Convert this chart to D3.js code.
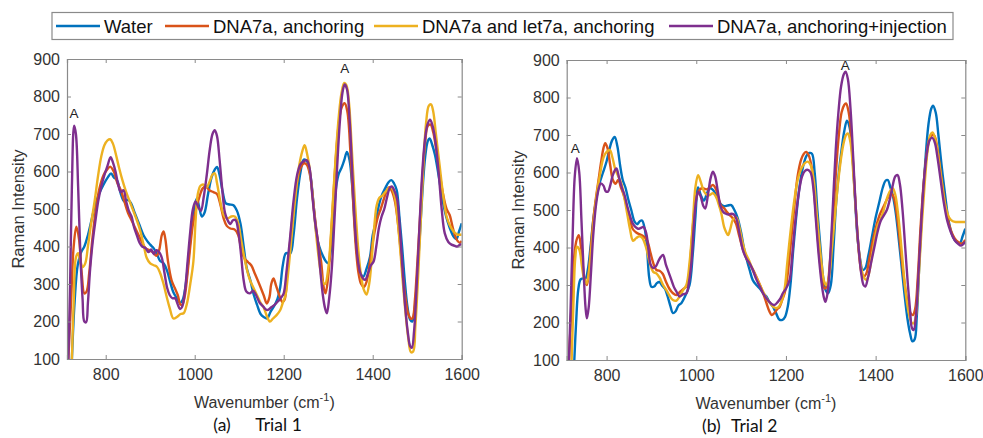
<!DOCTYPE html>
<html><head><meta charset="utf-8">
<script src="https://cdn.jsdelivr.net/npm/d3@7"></script>
<style>body{margin:0;background:#fff}svg{display:block}</style>
</head><body><svg id="c" width="983" height="438"></svg>
<script>
const seriesNames = ["Water","DNA7a, anchoring","DNA7a and let7a, anchoring","DNA7a, anchoring+injection"];
const seriesColors = ["#0072BD","#D95319","#EDB120","#7E2F8E"];
const yTicks = [100,200,300,400,500,600,700,800,900];
const xTicks = [800,1000,1200,1400,1600];

// Trial 1  [wavenumber, intensity]
const waterT1 = [[724,100],[730,250],[737,350],[745,385],[752,400],[760,430],[768,470],[776,510],[785,540],[795,565],[805,585],[812,595],[818,585],[826,575],[834,540],[842,520],[850,525],[857,515],[865,490],[875,460],[885,430],[893,415],[900,405],[908,395],[915,380],[922,362],[930,355],[938,335],[945,305],[952,278],[960,262],[967,250],[973,258],[980,300],[987,380],[994,460],[1000,510],[1005,528],[1010,505],[1016,480],[1022,490],[1030,540],[1038,585],[1045,605],[1050,612],[1056,590],[1063,545],[1070,515],[1078,512],[1087,510],[1095,495],[1103,460],[1110,400],[1117,342],[1125,310],[1133,270],[1140,245],[1148,220],[1155,212],[1163,208],[1170,225],[1178,240],[1186,260],[1192,290],[1198,350],[1205,382],[1215,382],[1222,430],[1230,530],[1238,600],[1245,632],[1252,628],[1260,590],[1268,500],[1274,430],[1280,400],[1288,375],[1295,360],[1300,355],[1306,390],[1312,470],[1318,560],[1324,595],[1330,610],[1336,630],[1342,652],[1348,630],[1354,560],[1360,450],[1366,370],[1372,330],[1379,320],[1386,340],[1394,373],[1400,430],[1406,460],[1412,500],[1420,535],[1428,555],[1436,572],[1442,577],[1448,568],[1454,550],[1460,480],[1466,400],[1472,310],[1478,240],[1484,205],[1489,200],[1494,230],[1500,320],[1506,430],[1512,550],[1518,640],[1524,682],[1528,688],[1534,670],[1540,644],[1548,590],[1556,530],[1565,480],[1573,450],[1580,430],[1588,420],[1594,440],[1600,462]];
const anchoringT1 = [[716,100],[722,250],[728,400],[734,453],[740,420],[746,330],[752,275],[757,280],[763,330],[770,420],[778,500],[786,555],[795,590],[803,605],[810,613],[818,600],[826,570],[834,550],[842,520],[850,490],[858,470],[866,450],[874,430],[882,410],[890,395],[898,390],[906,385],[914,375],[920,390],[926,430],[930,440],[934,420],[940,360],[948,310],[955,290],[962,270],[968,245],[972,245],[978,270],[984,330],[990,400],[996,460],[1002,495],[1010,530],[1018,555],[1025,560],[1033,550],[1042,545],[1050,540],[1058,510],[1065,475],[1072,455],[1080,448],[1090,445],[1098,430],[1105,390],[1112,368],[1120,358],[1127,350],[1135,328],[1145,300],[1155,270],[1162,248],[1168,265],[1172,300],[1177,315],[1183,295],[1190,270],[1197,252],[1202,258],[1208,330],[1215,420],[1222,500],[1230,570],[1238,610],[1246,622],[1252,618],[1260,585],[1268,500],[1276,420],[1284,360],[1290,290],[1294,275],[1300,320],[1306,420],[1312,540],[1318,650],[1324,730],[1330,770],[1337,782],[1343,760],[1350,650],[1356,520],[1362,400],[1368,330],[1374,300],[1380,292],[1386,305],[1394,360],[1400,410],[1406,450],[1412,480],[1418,500],[1426,530],[1432,550],[1437,558],[1443,548],[1450,520],[1456,470],[1462,400],[1468,320],[1474,260],[1480,220],[1486,207],[1490,210],[1495,260],[1500,350],[1506,470],[1512,590],[1518,680],[1524,722],[1530,725],[1536,705],[1542,665],[1550,600],[1558,540],[1566,500],[1573,484],[1580,450],[1588,420],[1596,410],[1600,415]];
const let7aT1 = [[724,100],[728,250],[733,370],[738,382],[743,360],[748,345],[754,355],[760,400],[767,460],[775,520],[783,590],[790,640],[797,670],[804,683],[810,686],[816,675],[822,650],[830,610],[838,575],[846,545],[854,520],[862,495],[870,470],[878,440],[886,400],[892,370],[900,355],[908,350],[915,346],[922,330],[930,300],[937,266],[944,235],[952,208],[960,212],[968,220],[975,222],[982,245],[990,300],[997,360],[1002,470],[1007,540],[1013,562],[1020,565],[1027,558],[1034,575],[1040,592],[1045,595],[1050,570],[1056,530],[1062,495],[1068,478],[1075,475],[1082,480],[1090,480],[1097,465],[1104,420],[1110,380],[1117,340],[1124,311],[1132,290],[1140,270],[1148,250],[1154,240],[1162,215],[1169,200],[1176,208],[1184,217],[1192,230],[1198,250],[1204,270],[1210,330],[1218,430],[1226,530],[1234,610],[1242,655],[1247,670],[1252,650],[1258,610],[1266,520],[1274,420],[1282,340],[1288,305],[1293,300],[1300,340],[1306,430],[1312,550],[1318,660],[1324,750],[1330,810],[1336,836],[1341,830],[1347,780],[1353,660],[1360,520],[1367,400],[1374,320],[1380,285],[1386,272],[1392,300],[1398,370],[1404,460],[1409,510],[1415,530],[1421,535],[1428,545],[1436,555],[1443,555],[1450,530],[1456,470],[1462,390],[1468,300],[1474,220],[1480,155],[1486,118],[1491,120],[1496,190],[1502,320],[1508,470],[1514,620],[1520,730],[1526,775],[1531,779],[1536,760],[1542,700],[1550,620],[1558,540],[1566,480],[1574,455],[1582,440],[1590,432],[1600,432]];
const injectionT1 = [[716,100],[720,300],[724,560],[729,722],[733,700],[738,560],[743,380],[748,260],[752,200],[756,198],[760,250],[765,340],[771,415],[777,470],[783,520],[790,560],[797,590],[804,615],[811,638],[816,625],[822,600],[828,565],[834,545],[840,550],[846,520],[852,495],[858,480],[864,450],[870,430],[876,410],[882,400],[890,395],[896,385],[902,392],[908,380],[914,390],[920,385],[926,370],[932,330],[938,290],[944,270],[950,262],[956,262],[962,245],[967,233],[972,240],[978,280],[984,360],[990,440],[996,500],[1002,520],[1008,505],[1014,495],[1020,530],[1027,590],[1034,660],[1040,700],[1045,710],[1050,695],[1056,630],[1062,550],[1068,490],[1074,470],[1080,460],[1086,470],[1092,470],[1098,440],[1104,380],[1110,310],[1116,280],[1124,275],[1131,282],[1138,270],[1146,250],[1154,240],[1160,232],[1165,231],[1172,238],[1180,245],[1188,255],[1195,265],[1200,275],[1206,330],[1214,420],[1222,520],[1230,590],[1238,620],[1246,628],[1252,630],[1258,610],[1264,540],[1270,470],[1276,420],[1282,340],[1288,270],[1293,235],[1297,222],[1302,260],[1308,340],[1314,470],[1320,610],[1326,730],[1332,810],[1337,832],[1342,820],[1348,740],[1354,600],[1360,460],[1366,370],[1372,330],[1378,315],[1383,311],[1390,330],[1396,350],[1402,360],[1408,400],[1414,450],[1420,480],[1426,500],[1432,530],[1438,555],[1443,560],[1450,545],[1455,525],[1461,445],[1467,340],[1473,240],[1479,170],[1484,135],[1488,130],[1493,175],[1499,300],[1505,450],[1511,590],[1517,680],[1523,725],[1529,738],[1535,720],[1541,680],[1548,600],[1555,500],[1562,435],[1570,412],[1577,405],[1584,402],[1590,400],[1596,405],[1600,405]];

// Trial 2
const waterT2 = [[728,100],[732,200],[737,290],[742,315],[748,318],[753,318],[758,340],[764,400],[770,470],[777,530],[784,570],[792,600],[800,630],[806,660],[812,685],[818,695],[824,670],[830,620],[836,580],[842,560],[848,530],[855,500],[862,470],[868,462],[874,470],[879,472],[885,450],[890,400],[895,320],[900,295],[906,296],[912,305],[918,308],[924,298],[930,290],[936,270],[942,245],[948,225],[954,230],[960,245],[967,252],[975,270],[985,300],[992,380],[998,480],[1004,560],[1010,540],[1017,525],[1024,545],[1030,558],[1036,555],[1042,545],[1048,530],[1055,515],[1062,510],[1070,512],[1078,513],[1085,500],[1092,480],[1100,440],[1106,400],[1112,370],[1119,340],[1126,313],[1134,300],[1142,290],[1149,278],[1156,270],[1163,255],[1171,242],[1178,225],[1185,208],[1192,207],[1198,215],[1204,242],[1210,300],[1216,390],[1222,470],[1230,560],[1238,615],[1246,645],[1252,652],[1258,650],[1264,600],[1270,500],[1277,400],[1283,320],[1289,285],[1294,278],[1300,300],[1306,400],[1312,520],[1318,600],[1324,660],[1330,710],[1336,738],[1342,720],[1348,650],[1354,530],[1360,420],[1366,365],[1371,340],[1377,345],[1384,380],[1392,430],[1400,480],[1408,520],[1416,560],[1422,578],[1427,580],[1433,560],[1438,540],[1444,500],[1450,440],[1457,360],[1464,280],[1471,210],[1477,170],[1482,150],[1487,155],[1492,220],[1498,370],[1505,530],[1512,650],[1518,730],[1524,770],[1528,778],[1534,760],[1540,700],[1547,620],[1555,540],[1563,470],[1572,430],[1580,415],[1588,412],[1594,430],[1600,450]];
const anchoringT2 = [[716,100],[722,250],[728,380],[733,420],[738,433],[743,400],[748,340],[752,310],[756,300],[760,330],[765,400],[770,470],[776,530],[782,580],[788,630],[793,665],[797,678],[802,665],[808,620],[814,580],[820,570],[826,580],[832,560],[838,540],[845,510],[852,478],[858,450],[866,440],[874,435],[882,430],[890,420],[898,385],[905,355],[911,340],[918,338],[925,330],[932,310],[940,290],[948,278],[956,273],[964,282],[972,290],[978,296],[984,330],[990,420],[996,500],[1002,540],[1008,555],[1015,558],[1022,555],[1030,560],[1037,567],[1044,555],[1050,530],[1056,510],[1062,505],[1068,495],[1074,487],[1080,480],[1088,465],[1096,430],[1104,395],[1112,371],[1120,355],[1127,340],[1134,322],[1142,300],[1150,275],[1157,250],[1163,230],[1168,220],[1174,225],[1180,235],[1186,242],[1192,262],[1197,278],[1203,320],[1210,400],[1218,500],[1226,590],[1234,635],[1240,650],[1245,655],[1251,645],[1258,610],[1264,530],[1270,440],[1276,360],[1281,310],[1286,291],[1291,295],[1298,360],[1305,480],[1312,610],[1318,700],[1324,760],[1330,780],[1334,784],[1340,760],[1346,690],[1352,580],[1358,460],[1364,370],[1369,330],[1373,322],[1379,330],[1386,370],[1394,420],[1402,460],[1410,490],[1418,510],[1426,530],[1434,545],[1440,535],[1446,500],[1452,440],[1458,370],[1465,300],[1472,250],[1478,225],[1483,220],[1488,235],[1494,320],[1500,450],[1507,570],[1514,650],[1520,690],[1526,700],[1531,698],[1537,670],[1544,610],[1552,540],[1560,480],[1568,445],[1576,425],[1584,415],[1592,410],[1600,420]];
const let7aT2 = [[722,100],[726,250],[730,370],[734,402],[739,395],[745,350],[750,315],[755,304],[760,330],[766,400],[772,480],[779,550],[786,600],[793,640],[800,655],[807,660],[813,640],[819,610],[826,590],[833,570],[840,530],[846,490],[852,450],[859,418],[866,425],[873,430],[880,425],[888,400],[896,360],[904,335],[911,331],[918,320],[926,300],[934,285],[941,270],[948,260],[955,258],[963,270],[971,287],[978,300],[985,360],[992,460],[998,560],[1004,593],[1010,575],[1017,550],[1024,540],[1030,540],[1037,545],[1044,535],[1050,515],[1056,490],[1062,455],[1067,440],[1071,433],[1076,450],[1082,475],[1089,480],[1095,460],[1102,420],[1110,385],[1118,365],[1126,340],[1134,320],[1142,300],[1150,280],[1158,262],[1166,250],[1174,240],[1182,240],[1190,255],[1197,290],[1203,360],[1210,440],[1218,520],[1226,580],[1234,610],[1242,625],[1249,629],[1255,620],[1262,580],[1268,500],[1274,420],[1280,350],[1285,310],[1290,300],[1296,320],[1302,390],[1309,480],[1316,570],[1322,630],[1328,675],[1334,700],[1338,704],[1344,680],[1350,600],[1356,500],[1362,400],[1368,345],[1374,320],[1379,313],[1385,330],[1392,380],[1399,430],[1405,460],[1411,475],[1418,500],[1425,530],[1432,550],[1438,558],[1444,540],[1450,490],[1456,420],[1462,340],[1468,270],[1474,225],[1480,200],[1485,198],[1490,220],[1496,320],[1503,460],[1510,580],[1516,660],[1522,700],[1527,707],[1533,690],[1540,640],[1548,570],[1556,510],[1564,480],[1572,470],[1580,468],[1590,468],[1600,468]];
const injectionT2 = [[716,100],[720,250],[724,420],[729,590],[734,638],[739,600],[744,470],[749,330],[753,240],[756,211],[760,240],[765,330],[770,430],[776,510],[782,555],[787,571],[793,565],[798,550],[803,549],[808,565],[813,590],[818,605],[822,611],[828,585],[834,560],[840,540],[846,510],[852,485],[858,465],[864,455],[870,450],[876,452],[882,455],[888,440],[893,400],[898,355],[904,345],[910,350],[916,365],[921,375],[926,380],[932,355],[938,335],[944,315],[950,295],[956,282],[963,269],[970,275],[978,278],[984,310],[989,358],[994,450],[999,520],[1004,549],[1010,535],[1016,510],[1020,504],[1026,540],[1032,585],[1037,602],[1042,590],[1048,550],[1054,510],[1060,495],[1066,490],[1072,488],[1078,490],[1084,488],[1090,475],[1096,440],[1104,393],[1112,370],[1119,358],[1126,340],[1134,315],[1142,295],[1149,278],[1156,265],[1163,255],[1170,248],[1175,247],[1182,255],[1188,265],[1193,278],[1200,290],[1208,313],[1214,380],[1220,460],[1228,540],[1236,590],[1243,605],[1249,607],[1255,600],[1261,560],[1267,470],[1273,380],[1279,310],[1284,270],[1288,255],[1293,280],[1299,380],[1305,520],[1311,660],[1317,760],[1323,830],[1329,862],[1333,869],[1338,850],[1344,770],[1350,640],[1356,500],[1362,400],[1368,330],[1373,300],[1377,296],[1383,320],[1390,360],[1397,400],[1404,440],[1411,470],[1418,485],[1425,500],[1432,530],[1438,565],[1444,590],[1449,593],[1454,570],[1460,500],[1466,400],[1472,300],[1477,230],[1481,185],[1485,180],[1490,220],[1496,340],[1502,470],[1508,580],[1514,650],[1520,685],[1526,693],[1532,680],[1538,640],[1545,580],[1552,520],[1560,470],[1568,440],[1576,420],[1584,410],[1590,405],[1596,410],[1600,415]];

const annotT1 = [[729,742],[1337,862]];
const annotT2 = [[730,652],[1332,873]];
const captionsA = ["(a)","Trial 1"];
const captionsB = ["(b)","Trial 2"];

const svg = d3.select("#c");
const panels = [
  {x0:67, x1:461.7, y0:59, y1:359, xd:[713,1600], series:[waterT1,anchoringT1,let7aT1,injectionT1], annot:annotT1, cap:captionsA, capDx:[-51,-9], ylabX:24},
  {x0:566.7, x1:965.3, y0:60, y1:360, xd:[711,1600], series:[waterT2,anchoringT2,let7aT2,injectionT2], annot:annotT2, cap:captionsB, capDx:[-64,-35], ylabX:524}
];
const axisColor = "#8a8a8a", textColor = "#333";
panels.forEach((p,i)=>{
  const x = d3.scaleLinear().domain(p.xd).range([p.x0,p.x1]);
  const y = d3.scaleLinear().domain([100,900]).range([p.y1,p.y0]);
  const g = svg.append("g");
  const cid = "clip"+i;
  svg.append("clipPath").attr("id",cid).append("rect").attr("x",p.x0).attr("y",p.y0).attr("width",p.x1-p.x0).attr("height",p.y1-p.y0);
  const line = d3.line().x(d=>x(d[0])).y(d=>y(d[1])).curve(d3.curveCatmullRom.alpha(0.5));
  const lg = g.append("g").attr("clip-path",`url(#${cid})`);
  p.series.forEach((s,k)=>{
    lg.append("path").datum(s).attr("d",line).attr("fill","none").attr("stroke",seriesColors[k]).attr("stroke-width",2.4).attr("stroke-linejoin","round");
  });
  const bx = g.append("g").attr("transform",`translate(0,${p.y1})`).call(d3.axisBottom(x).tickValues(xTicks).tickSize(-4).tickPadding(10).tickFormat(d3.format("d")));
  const tx = g.append("g").attr("transform",`translate(0,${p.y0})`).call(d3.axisTop(x).tickValues(xTicks).tickSize(-4).tickFormat(""));
  const ly = g.append("g").attr("transform",`translate(${p.x0},0)`).call(d3.axisLeft(y).tickValues(yTicks).tickSize(-4).tickPadding(7).tickFormat(d3.format("d")));
  const ry = g.append("g").attr("transform",`translate(${p.x1},0)`).call(d3.axisRight(y).tickValues(yTicks).tickSize(-4).tickFormat(""));
  [bx,tx,ly,ry].forEach(a=>{
    a.selectAll(".domain").attr("stroke",axisColor).attr("stroke-width",1.2);
    a.selectAll(".tick line").attr("stroke",axisColor);
    a.selectAll("text").attr("fill",textColor).style("font-family","'Liberation Sans',Arial,sans-serif").style("font-size","16px");
  });
  g.selectAll(".ann").data(p.annot).enter().append("text")
    .attr("x",d=>x(d[0])).attr("y",d=>y(d[1])).attr("text-anchor","middle")
    .style("font-family","'Liberation Sans',Arial,sans-serif").style("font-size","13.5px").attr("fill","#222").text("A");
  g.append("text").attr("transform",`translate(${p.ylabX},${(p.y0+p.y1)/2}) rotate(-90)`).attr("text-anchor","middle")
    .style("font-family","'Liberation Sans',Arial,sans-serif").style("font-size","16.5px").attr("fill",textColor).text("Raman Intensity");
  const xl = g.append("text").attr("x",(p.x0+p.x1)/2).attr("y",p.y1+49).attr("text-anchor","middle")
    .style("font-family","'Liberation Sans',Arial,sans-serif").style("font-size","16px").attr("fill",textColor);
  xl.append("tspan").text("Wavenumber (cm");
  xl.append("tspan").attr("dy",-7).style("font-size","11px").text("-1");
  xl.append("tspan").attr("dy",7).text(")");
  const cx = (p.x0+p.x1)/2;
  const cap = g.append("text").attr("y",p.y1+72)
    .style("font-family","Lato,'Open Sans',sans-serif").style("font-size","17.5px").attr("fill","#111");
  cap.append("tspan").attr("x",cx+p.capDx[0]).text(p.cap[0]);
  cap.append("tspan").attr("x",cx+p.capDx[1]).text(p.cap[1]);
});

const leg = svg.append("g");
leg.append("rect").attr("x",52).attr("y",12.5).attr("width",901).attr("height",27).attr("fill","#fff").attr("stroke","#8a8a8a").attr("stroke-width",1.2);
const legX = [56,165,374,669];
seriesNames.forEach((n,k)=>{
  leg.append("line").attr("x1",legX[k]).attr("x2",legX[k]+44).attr("y1",26).attr("y2",26).attr("stroke",seriesColors[k]).attr("stroke-width",2.4);
  leg.append("text").attr("x",legX[k]+48).attr("y",33).style("font-family","'Liberation Sans',Arial,sans-serif").style("font-size","18.5px").attr("fill","#111").text(n);
});
</script></body></html>
